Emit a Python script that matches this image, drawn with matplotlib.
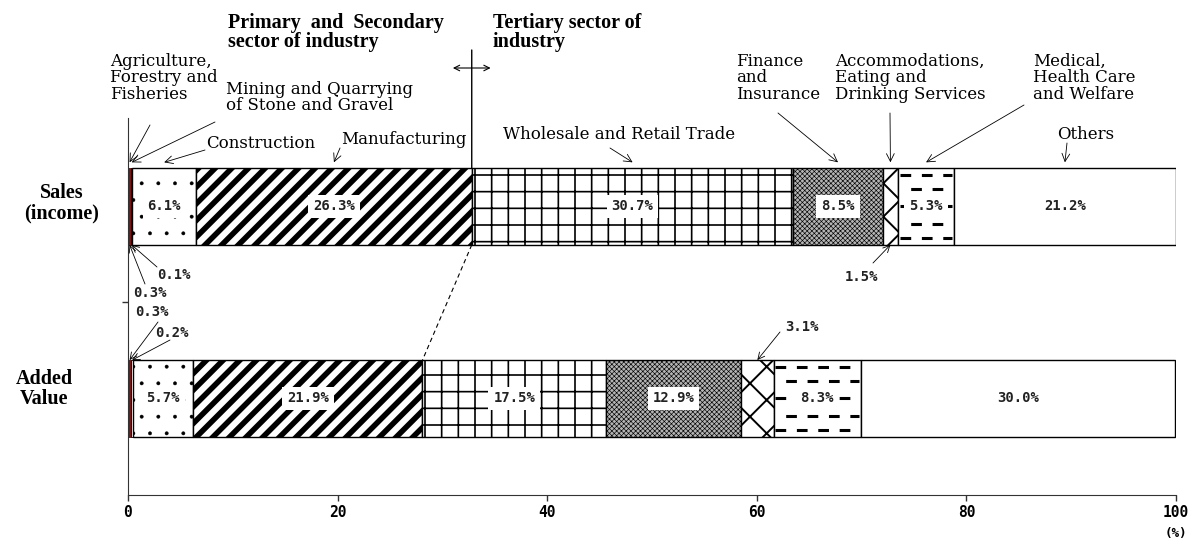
import numpy as np
import matplotlib
matplotlib.use("Agg")
import matplotlib.pyplot as plt
import matplotlib.transforms as mtransforms

# data (percent shares)
categories = ["Agriculture, Forestry and Fisheries", "Mining and Quarrying of Stone and Gravel",
              "Construction", "Manufacturing", "Wholesale and Retail Trade",
              "Finance and Insurance", "Accommodations, Eating and Drinking Services",
              "Medical, Health Care and Welfare", "Others"]
sales = [0.3, 0.1, 6.1, 26.3, 30.7, 8.5, 1.5, 5.3, 21.2]
added = [0.3, 0.2, 5.7, 21.9, 17.5, 12.9, 3.1, 8.3, 30.0]
rows = ["Sales\n(income)", "Added\nValue"]
xticks = [0, 20, 40, 60, 80, 100]

# style per category
faces = ["#7a1616", "white", "white", "white", "white", "#b4b4b4", "white", "white", "white"]
edges = ["#5a1010", "black", "black", "black", "black", "black", "black", "black", "black"]
hatches = [None, None, ".", "//", "+", "xxxxxxx", "x", None, None]
hatch_lw = [1, 1, 0.3, 4.0, 1.2, 0.45, 1.4, 1, 1]

serif = "DejaVu Serif"
bserif = "Liberation Serif"
mono = "DejaVu Sans Mono"

W, H = 1192, 540
fig = plt.figure(figsize=(W / 100, H / 100), dpi=100)
ax = fig.add_axes([128 / W, 45 / H, 1048 / W, 377 / H])


def fp(px, py):
    return (px / W, 1 - py / H)


y_s, y_a = 1, 0
bh = 0.4
cum_s = np.concatenate([[0], np.cumsum(sales)[:-1]])
cum_a = np.concatenate([[0], np.cumsum(added)[:-1]])

for i in range(len(categories)):
    with plt.rc_context({"hatch.linewidth": hatch_lw[i]}):
        bars = ax.barh([y_s, y_a], [sales[i], added[i]], left=[cum_s[i], cum_a[i]],
                       height=bh, color=faces[i], edgecolor=edges[i],
                       linewidth=0.6 if i < 2 else 1, hatch=hatches[i])
        for b in bars:
            if hasattr(b, "set_hatch_linewidth"):
                b.set_hatch_linewidth(hatch_lw[i])

# dashed pattern for Medical, Health Care and Welfare
med = categories.index("Medical, Health Care and Welfare")
for yc, left, width in [(y_s, cum_s[med], sales[med]), (y_a, cum_a[med], added[med])]:
    for k, f in enumerate([0.41, 0.23, 0.0, -0.23, -0.41]):
        off = 0 if k % 2 == 0 else 3.5
        ax.plot([left + 0.15, left + width - 0.15], [yc + f * bh, yc + f * bh],
                color="black", lw=2.2, ls=(off, (3.5, 3.5)),
                dash_capstyle="butt", solid_capstyle="butt", zorder=3)

# value labels inside bars
inside = [2, 3, 4, 5, 7, 8]
for i in inside:
    for yc, left, val in [(y_s, cum_s[i], sales[i]), (y_a, cum_a[i], added[i])]:
        ax.text(left + val / 2, yc, f"{val:.1f}%", ha="center", va="center",
                fontsize=10, fontweight="bold", family=mono, color="#222222", zorder=4,
                bbox=dict(boxstyle="square,pad=0.35", fc="white", ec="none"))

ax.set_xlim(0, 100)
ax.set_ylim(-0.503, 1.461)
ax.set_xticks(xticks)
ax.set_xticklabels([str(t) for t in xticks], family=mono, fontweight="bold", fontsize=10.5)
ax.set_yticks([0.5])
ax.set_yticklabels([""])
ax.tick_params(axis="both", direction="out", length=4, width=1, color="#333333")
for s in ["top", "right"]:
    ax.spines[s].set_visible(False)
for s in ["left", "bottom"]:
    ax.spines[s].set_color("#333333")
fig.text(*fp(1176, 534), "(%)", ha="center", va="center", family=mono,
         fontweight="bold", fontsize=9)

# row labels
fig.text(*fp(62, 203), rows[0], ha="center", va="center", family=bserif,
         fontweight="bold", fontsize=14.5, linespacing=1.0)
fig.text(*fp(44, 389), rows[1], ha="center", va="center", family=bserif,
         fontweight="bold", fontsize=14.5, linespacing=1.0)

# sector headings
fig.text(*fp(228, 13), "Primary  and  Secondary\nsector of industry", ha="left", va="top",
         family=bserif, fontweight="bold", fontsize=14.5, linespacing=0.95)
fig.text(*fp(493, 13), "Tertiary sector of\nindustry", ha="left", va="top",
         family=bserif, fontweight="bold", fontsize=14.5, linespacing=0.95)

blend = mtransforms.blended_transform_factory(ax.transData, fig.transFigure)
div_s = cum_s[4]
div_a = cum_a[4]
ax.annotate("", xy=(div_s, y_s + bh / 2), xycoords="data",
            xytext=(div_s, fp(0, 50)[1]), textcoords=blend,
            arrowprops=dict(arrowstyle="-", lw=1, color="black", shrinkA=0, shrinkB=0),
            annotation_clip=False)
ax.annotate("", xy=(div_s + 1.8, fp(0, 68)[1]), xycoords=blend,
            xytext=(div_s - 1.8, fp(0, 68)[1]), textcoords=blend,
            arrowprops=dict(arrowstyle="<->", lw=0.8, color="black", shrinkA=0, shrinkB=0,
                            mutation_scale=10),
            annotation_clip=False)
ax.plot([div_s, div_a], [y_s - bh / 2, y_a + bh / 2], color="black", lw=0.8,
        ls=(0, (4, 3)), zorder=2)

# category name callouts above the sales bar
callouts = [
    (0, "Agriculture,\nForestry and\nFisheries", (110, 53), (150, 125)),
    (1, "Mining and Quarrying\nof Stone and Gravel", (226, 81), (215, 122)),
    (2, "Construction", (206, 135), (205, 150)),
    (3, "Manufacturing", (341, 131), (340, 148)),
    (4, "Wholesale and Retail Trade", (503, 126), (610, 148)),
    (5, "Finance\nand\nInsurance", (736, 53), (778, 113)),
    (6, "Accommodations,\nEating and\nDrinking Services", (835, 53), (890, 113)),
    (7, "Medical,\nHealth Care\nand Welfare", (1033, 53), (1024, 105)),
    (8, "Others", (1057, 126), (1067, 143)),
]
for i, name, tpos, apos in callouts:
    fig.text(*fp(*tpos), name, ha="left", va="top", family=serif, fontsize=12,
             linespacing=0.95)
    ax.annotate("", xy=(cum_s[i] + sales[i] / 2, y_s + bh / 2 + 0.03), xycoords="data",
                xytext=fp(*apos), textcoords="figure fraction",
                arrowprops=dict(arrowstyle="->", lw=0.6, color="black", shrinkA=0,
                                shrinkB=0, mutation_scale=14),
                annotation_clip=False)

# small value callouts
small = [
    (sales, cum_s, y_s - bh / 2, 1, (157, 275), (157, 267)),
    (sales, cum_s, y_s - bh / 2, 0, (133, 293), (145, 284)),
    (added, cum_a, y_a + bh / 2, 0, (135, 312), (158, 322)),
    (added, cum_a, y_a + bh / 2, 1, (155, 333), (170, 340)),
    (sales, cum_s, y_s - bh / 2, 6, (845, 277), (873, 263)),
    (added, cum_a, y_a + bh / 2, 6, (785, 327), (780, 332)),
]
for vals, cum, ytarget, i, tpos, apos in small:
    fig.text(*fp(*tpos), f"{vals[i]:.1f}%", ha="left", va="center", family=mono,
             fontweight="bold", fontsize=10, color="#222222")
    ax.annotate("", xy=(cum[i] + vals[i] / 2, ytarget), xycoords="data",
                xytext=fp(*apos), textcoords="figure fraction",
                arrowprops=dict(arrowstyle="->", lw=0.6, color="black", shrinkA=0,
                                shrinkB=0, mutation_scale=12),
                annotation_clip=False)

fig.savefig("out.png", dpi=100)
